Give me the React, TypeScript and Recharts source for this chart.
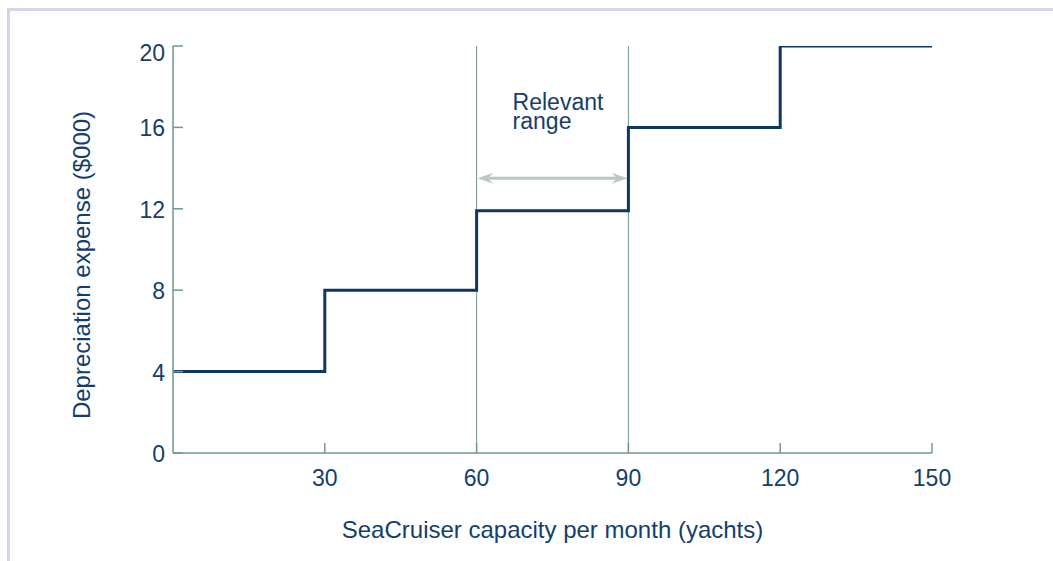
import React from "react";
import { LineChart, Line, XAxis, YAxis, ReferenceLine, Label } from "recharts";

const capacity = [0, 30, 60, 90, 120, 150];
const depreciation = [4, 8, 11.9, 16, 20, 20];
const xTicks = [30, 60, 90, 120, 150];
const yTicks = [0, 4, 8, 12, 16, 20];
const rangeStart = 60;
const rangeEnd = 90;
const arrowLevel = 13.5;
const rangeLabel = ["Relevant", "range"];
const xTitle = "SeaCruiser capacity per month (yachts)";
const yTitle = "Depreciation expense ($000)";

const data = capacity.map((c, i) => ({ x: c, y: depreciation[i] }));

const FONT = "'Liberation Sans', Arial, Helvetica, sans-serif";
const TEXT = "#143e6d";
const AXIS = "#6f998f";
const LINE = "#0e3864";
const ARROW = "#b7c8c1";

const YTick = (props: any) => {
  const { x, y, payload } = props;
  const off = payload.value === 20 ? 7 : 1;
  return (
    <text x={x} y={y + off} textAnchor="end" dominantBaseline="central" fill={TEXT} fontSize={23} fontFamily={FONT}>
      {payload.value}
    </text>
  );
};

const XTick = (props: any) => {
  const { x, y, payload } = props;
  return (
    <text x={x} y={y} textAnchor="middle" dominantBaseline="hanging" fill={TEXT} fontSize={23} fontFamily={FONT}>
      {payload.value}
    </text>
  );
};

const ArrowShape = (props: any) => {
  const { x1, y1, x2 } = props;
  const y = y1;
  const L = 17;
  const H = 5.5;
  const B = 11;
  const tx = x1 + 36;
  return (
    <g>
      <line x1={x1 + 8} y1={y} x2={x2 - 8} y2={y} stroke={ARROW} strokeWidth={3} />
      <polygon points={`${x1 + 1},${y} ${x1 + L},${y - H} ${x1 + B},${y} ${x1 + L},${y + H}`} fill={ARROW} />
      <polygon points={`${x2 - 1},${y} ${x2 - L},${y - H} ${x2 - B},${y} ${x2 - L},${y + H}`} fill={ARROW} />
      <text x={tx} y={y - 68} fill={TEXT} fontSize={23} fontFamily={FONT}>
        <tspan x={tx}>{rangeLabel[0]}</tspan>
        <tspan x={tx} dy={19}>{rangeLabel[1]}</tspan>
      </text>
    </g>
  );
};

export default function App() {
  return (
    <div style={{ position: "absolute", left: 0, top: 0, width: 1053, height: 561, background: "#fff" }}>
      <div
        style={{
          position: "absolute",
          left: 7,
          top: 8,
          width: 1046,
          height: 553,
          borderTop: "3px solid #d5d5e7",
          borderLeft: "3px solid #d5d5e7",
          boxSizing: "border-box",
        }}
      />
      <div style={{ position: "absolute", left: 0, top: 0 }}>
        <LineChart width={1053} height={561} data={data} margin={{ top: 46, right: 121, bottom: 68, left: 73 }}>
          <XAxis
            dataKey="x"
            type="number"
            domain={[0, 150]}
            ticks={xTicks}
            interval={0}
            height={40}
            stroke={AXIS}
            strokeWidth={1.5}
            tickSize={-10}
            tickMargin={26}
            tick={<XTick />}
            allowDataOverflow
          >
            <Label
              content={(p: any) => {
                const vb = p.viewBox || {};
                const cx = vb.x + vb.width / 2;
                return (
                  <text x={cx} y={538} textAnchor="middle" fill={TEXT} fontSize={24} fontFamily={FONT}>
                    {xTitle}
                  </text>
                );
              }}
            />
          </XAxis>
          <YAxis
            type="number"
            domain={[0, 20]}
            ticks={yTicks}
            interval={0}
            width={100}
            stroke={AXIS}
            strokeWidth={1.5}
            tickSize={-10}
            tickMargin={18}
            tick={<YTick />}
            allowDataOverflow
          >
            <Label
              content={() => (
                <text
                  x={90}
                  y={265}
                  transform="rotate(-90 90 265)"
                  textAnchor="middle"
                  fill={TEXT}
                  fontSize={24}
                  fontFamily={FONT}
                >
                  {yTitle}
                </text>
              )}
            />
          </YAxis>
          <ReferenceLine x={rangeStart} stroke={AXIS} strokeWidth={1} />
          <ReferenceLine x={rangeEnd} stroke={AXIS} strokeWidth={1} />
          <ReferenceLine
            segment={[
              { x: rangeStart, y: arrowLevel },
              { x: rangeEnd, y: arrowLevel },
            ]}
            shape={<ArrowShape />}
          />
          <Line
            type="stepAfter"
            dataKey="y"
            stroke={LINE}
            strokeWidth={3}
            dot={false}
            isAnimationActive={false}
          />
        </LineChart>
      </div>
    </div>
  );
}
